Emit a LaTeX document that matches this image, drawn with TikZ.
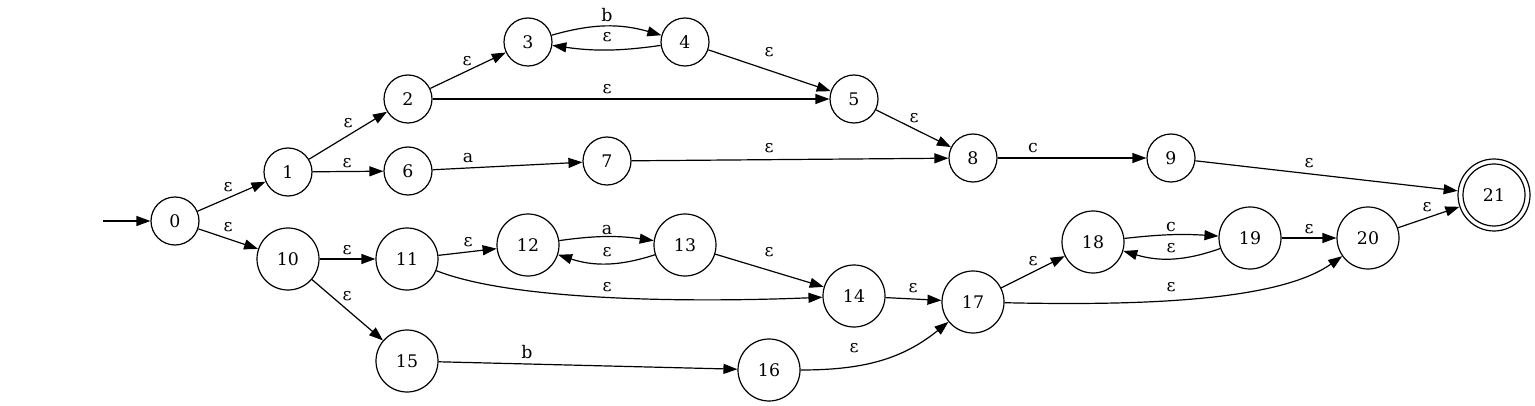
\documentclass[tikz,border=0pt]{standalone}
\usepackage{fontspec}
\setmainfont{DejaVu Serif}
\usetikzlibrary{arrows.meta}
\begin{document}
\begin{tikzpicture}[x=0.75pt,y=-0.75pt,
  st/.style={circle,draw,line width=0.9pt,inner sep=0pt,minimum size=36pt,font=\fontsize{13}{15}\selectfont},
  lg/.style={st,minimum size=46.5pt},
  edge/.style={line width=0.9pt,-{Triangle[length=10.5pt,width=7.5pt]}},
  lbl/.style={inner sep=0pt,font=\fontsize{13}{15}\selectfont}]
\useasboundingbox (0,0) rectangle (1535,406);
\node[st] (q0) at (175,221) {0};
\node[st] (q1) at (288,172) {1};
\node[st] (q2) at (408,99) {2};
\node[st] (q3) at (528,42) {3};
\node[st] (q4) at (685,42) {4};
\node[st] (q5) at (854,99) {5};
\node[st] (q6) at (408,171) {6};
\node[st] (q7) at (607,161) {7};
\node[st] (q8) at (973,158) {8};
\node[st] (q9) at (1171,158) {9};
\node[lg] (q10) at (288,259) {10};
\node[lg] (q11) at (407,259) {11};
\node[lg] (q12) at (528,245) {12};
\node[lg] (q13) at (685,245) {13};
\node[lg] (q14) at (854,296) {14};
\node[lg] (q15) at (407,361) {15};
\node[lg] (q16) at (769,370) {16};
\node[lg] (q17) at (973,302) {17};
\node[lg] (q18) at (1093,242) {18};
\node[lg] (q19) at (1250,238) {19};
\node[lg] (q20) at (1368,238) {20};
\node[lg] (q21in) at (1494,195) {};
\node[lg,minimum size=54pt] (q21) at (1494,195) {21};
\coordinate (s) at (103,221);
\draw[edge] (s) -- (q0);
\draw[edge] (q0) -- (q1) node[lbl] at (228,187) {ε};
\draw[edge] (q0) -- (q10) node[lbl] at (228,227) {ε};
\draw[edge] (q1) -- (q2) node[lbl] at (348,123) {ε};
\draw[edge] (q1) -- (q6) node[lbl] at (347,163) {ε};
\draw[edge] (q2) -- (q3) node[lbl] at (467,61) {ε};
\draw[edge] (q2) -- (q5) node[lbl] at (607,89) {ε};
\draw[edge] (q3) to[bend left=16] (q4);
\node[lbl] (l34) at (607,15) {b};
\draw[edge] (q4) to[bend left=8] (q3);
\node[lbl] (l43) at (607,37) {ε};
\draw[edge] (q4) -- (q5) node[lbl] at (769,52) {ε};
\draw[edge] (q5) -- (q8) node[lbl] at (914,118) {ε};
\draw[edge] (q6) -- (q7) node[lbl] at (468,158) {a};
\draw[edge] (q7) -- (q8) node[lbl] at (769,148) {ε};
\draw[edge] (q8) -- (q9) node[lbl] at (1033,148) {c};
\draw[edge] (q9) -- (q21) node[lbl] at (1309,163) {ε};
\draw[edge] (q10) -- (q11) node[lbl] at (347,250) {ε};
\draw[edge] (q10) -- (q15) node[lbl] at (347,296) {ε};
\draw[edge] (q11) -- (q12) node[lbl] at (468,242) {ε};
\draw[edge] (q11) .. controls (510,300) and (680,303) .. (q14);
\node[lbl] (l1114) at (607,287) {ε};
\draw[edge] (q12) to[bend left=8] (q13);
\node[lbl] (l1213) at (607,230) {a};
\draw[edge] (q13) to[bend left=18] (q12);
\node[lbl] (l1312) at (607,252) {ε};
\draw[edge] (q13) -- (q14) node[lbl] at (769,252) {ε};
\draw[edge] (q14) -- (q17) node[lbl] at (913,288) {ε};
\draw[edge] (q15) -- (q16) node[lbl] at (527,352) {b};
\draw[edge] (q16) to[out=0,in=219] (q17);
\node[lbl] (l1617) at (854,348) {ε};
\draw[edge] (q17) -- (q18) node[lbl] at (1033,261) {ε};
\draw[edge] (q17) .. controls (1150,306) and (1280,300) .. (q20);
\node[lbl] (l1720) at (1171,287) {ε};
\draw[edge] (q18) to[bend left=5] (q19);
\node[lbl] (l1819) at (1171,227) {c};
\draw[edge] (q19) to[bend left=18] (q18);
\node[lbl] (l1918) at (1171,248) {ε};
\draw[edge] (q19) -- (q20) node[lbl] at (1309,229) {ε};
\draw[edge] (q20) -- (q21) node[lbl] at (1427,207) {ε};
\end{tikzpicture}
\end{document}
